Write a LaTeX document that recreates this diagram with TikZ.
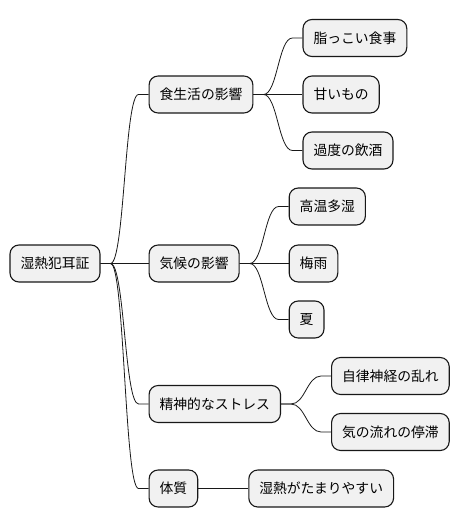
\documentclass[tikz,border=0pt]{standalone}
\usepackage{fontspec}
\setmainfont{Noto Sans CJK JP}
\usetikzlibrary{positioning,calc}

\definecolor{boxfill}{HTML}{F1F1F1}
\definecolor{boxline}{HTML}{181818}

\begin{document}
\begin{tikzpicture}[
    font=\fontsize{13.8pt}{16pt}\selectfont,
    topic/.style={draw=boxline, fill=boxfill, line width=1.1pt, rounded corners=9pt, minimum height=37pt, inner xsep=10.5pt, inner ysep=0pt},
    branch/.style={draw=boxline, line width=0.8pt, to path={-- ++(10pt,0) .. controls +(14pt,0) and +(-14pt,0) .. ($(\tikztotarget)+(-10pt,0)$) -- (\tikztotarget)}}
]
\useasboundingbox (0,0) rectangle (460pt,-527pt);

\node[topic] (root) at (55pt,-263.5pt) {湿熱犯耳証};

% first level
\node[topic, right=48pt of root, yshift=169pt] (food) {食生活の影響};
\node[topic, right=48pt of root] (climate) {気候の影響};
\node[topic, right=48pt of root, yshift=-140.5pt] (stress) {精神的なストレス};
\node[topic, right=48pt of root, yshift=-225pt] (body) {体質};

% second level
\node[topic, right=49pt of food, yshift=56.5pt] (oily) {脂っこい食事};
\node[topic, right=49pt of food] (sweet) {甘いもの};
\node[topic, right=49pt of food, yshift=-56pt] (alcohol) {過度の飲酒};

\node[topic, right=49pt of climate, yshift=57pt] (humid) {高温多湿};
\node[topic, right=49pt of climate] (rain) {梅雨};
\node[topic, right=49pt of climate, yshift=-56pt] (summer) {夏};

\node[topic, right=50pt of stress, yshift=28pt] (nerve) {自律神経の乱れ};
\node[topic, right=50pt of stress, yshift=-28pt] (stagnation) {気の流れの停滞};

\node[topic, right=50pt of body] (heat) {湿熱がたまりやすい};

\draw[branch] (root.east) to (food.west);
\draw[branch] (root.east) to (climate.west);
\draw[branch] (root.east) to (stress.west);
\draw[branch] (root.east) to (body.west);

\draw[branch] (food.east) to (oily.west);
\draw[branch] (food.east) to (sweet.west);
\draw[branch] (food.east) to (alcohol.west);

\draw[branch] (climate.east) to (humid.west);
\draw[branch] (climate.east) to (rain.west);
\draw[branch] (climate.east) to (summer.west);

\draw[branch] (stress.east) to (nerve.west);
\draw[branch] (stress.east) to (stagnation.west);

\draw[branch] (body.east) to (heat.west);

\end{tikzpicture}
\end{document}
